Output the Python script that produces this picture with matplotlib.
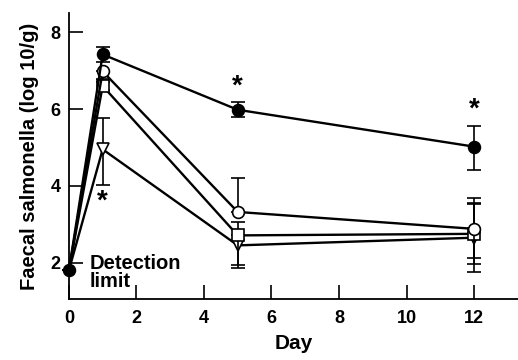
import numpy as np
import matplotlib.pyplot as plt

plt.rcParams['font.family'] = ['Liberation Sans', 'DejaVu Sans']
plt.rcParams['font.weight'] = 'bold'
plt.rcParams['axes.labelweight'] = 'bold'

days = [0, 1, 5, 12]

filled = [1.8, 7.42, 5.98, 5.02]
filled_lo = [0, 0.2, 0.19, 0.6]
filled_hi = [0, 0.2, 0.2, 0.55]

open_c = [1.8, 6.98, 3.32, 2.88]
open_lo = [0, 0.2, 0.0, 0.76]
open_hi = [0, 0.0, 0.88, 0.8]

square = [1.8, 6.6, 2.71, 2.75]
square_lo = [0, 0.1, 0.76, 0.78]
square_hi = [0, 0.1, 0.0, 0.78]

triangle = [1.8, 4.95, 2.45, 2.65]
tri_lo = [0, 0.92, 0.6, 0.9]
tri_hi = [0, 0.82, 0.6, 0.9]

star_x = [1, 5, 12]
star_y = [3.58, 6.58, 5.98]

fig = plt.figure(figsize=(5.18, 3.6), dpi=100)
ax = fig.add_axes([0.133, 0.169, 0.867, 0.795])

# day 0 is shared by all groups; only the filled marker shows there
series = [
    (triangle, tri_lo, tri_hi, 'v', 'white', 2, [1, 2, 3]),
    (square, square_lo, square_hi, 's', 'white', 3, [1, 2, 3]),
    (open_c, open_lo, open_hi, 'o', 'white', 4, [1, 2, 3]),
    (filled, filled_lo, filled_hi, 'o', 'black', 5, None),
]
for vals, lo, hi, mk, fc, z, every in series:
    ax.errorbar(days, vals, yerr=[lo, hi], fmt='-', marker=mk, color='black',
                mfc=fc, mec='black', ms=8.5, mew=1.2, lw=1.7,
                elinewidth=1.2, capsize=5, capthick=1.2, zorder=z,
                clip_on=False, markevery=every)

for x, y in zip(star_x, star_y):
    ax.text(x, y, '*', ha='center', va='center', fontsize=20)

ax.text(0.6, 1.74, 'Detection\nlimit', ha='left', va='center', fontsize=14.5,
        linespacing=0.95)

ax.set_xlim(0, 13.3)
ax.set_ylim(1.05, 8.5)
ax.set_xticks([0, 2, 4, 6, 8, 10, 12])
ax.set_yticks([2, 4, 6, 8])
ax.tick_params(direction='in', length=10, width=1.2, labelsize=13)
ax.tick_params(axis='x', pad=8)
ax.tick_params(axis='y', pad=6)
for s in ['top', 'right']:
    ax.spines[s].set_visible(False)
for s in ['left', 'bottom']:
    ax.spines[s].set_linewidth(1.3)

ax.set_xlabel('Day', fontsize=15, labelpad=5)
ax.set_ylabel('Faecal salmonella (log 10/g)', fontsize=14.5, labelpad=8)

fig.savefig('out.png', dpi=100)
